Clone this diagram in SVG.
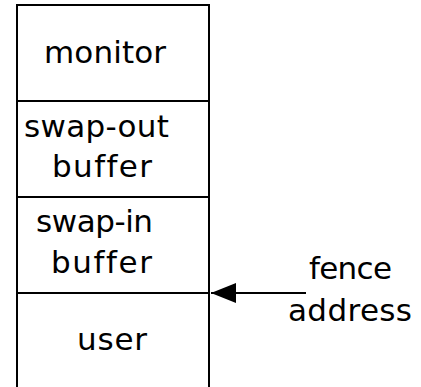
<svg xmlns="http://www.w3.org/2000/svg" width="421" height="387" viewBox="0 0 421 387">
  <style>
    .box { fill: none; stroke: #000; stroke-width: 2; }
    .lbl { font-family: "DejaVu Sans", sans-serif; font-size: 31px; fill: #000; font-variant-ligatures: none; }
    .conn { stroke: #000; stroke-width: 2; fill: none; }
  </style>
  <defs>
    <marker id="arrowhead" markerUnits="userSpaceOnUse" markerWidth="26" markerHeight="22" refX="25" refY="10" orient="auto">
      <path d="M0,0 L25,10 L0,20 Z" fill="#000"/>
    </marker>
  </defs>
  <rect width="421" height="387" fill="#fff"/>

  <!-- memory column: outer walls (open at the bottom) -->
  <g id="memory-column">
    <path class="box" d="M17,387 V5 H209 V387"/>
  </g>

  <g id="monitor">
    <text class="lbl" x="44" y="63" textLength="122">monitor</text>
  </g>

  <g id="swap-out-buffer">
    <line class="box" x1="17" y1="101" x2="209" y2="101"/>
    <text class="lbl" x="24" y="137" textLength="145">swap-out</text>
    <text class="lbl" x="52" y="177" textLength="100">buffer</text>
  </g>

  <g id="swap-in-buffer">
    <line class="box" x1="17" y1="197" x2="209" y2="197"/>
    <text class="lbl" x="36" y="232" textLength="117">swap-in</text>
    <text class="lbl" x="51" y="273" textLength="101">buffer</text>
  </g>

  <g id="user">
    <line class="box" x1="17" y1="293" x2="209" y2="293"/>
    <text class="lbl" x="77" y="350" textLength="70">user</text>
  </g>

  <g id="fence-address">
    <text class="lbl" x="309" y="279" textLength="83">fence</text>
    <text class="lbl" x="288" y="321" textLength="124">address</text>
  </g>

  <g id="connectors">
    <line class="conn" x1="306" y1="293" x2="211" y2="293" marker-end="url(#arrowhead)"/>
  </g>
</svg>
